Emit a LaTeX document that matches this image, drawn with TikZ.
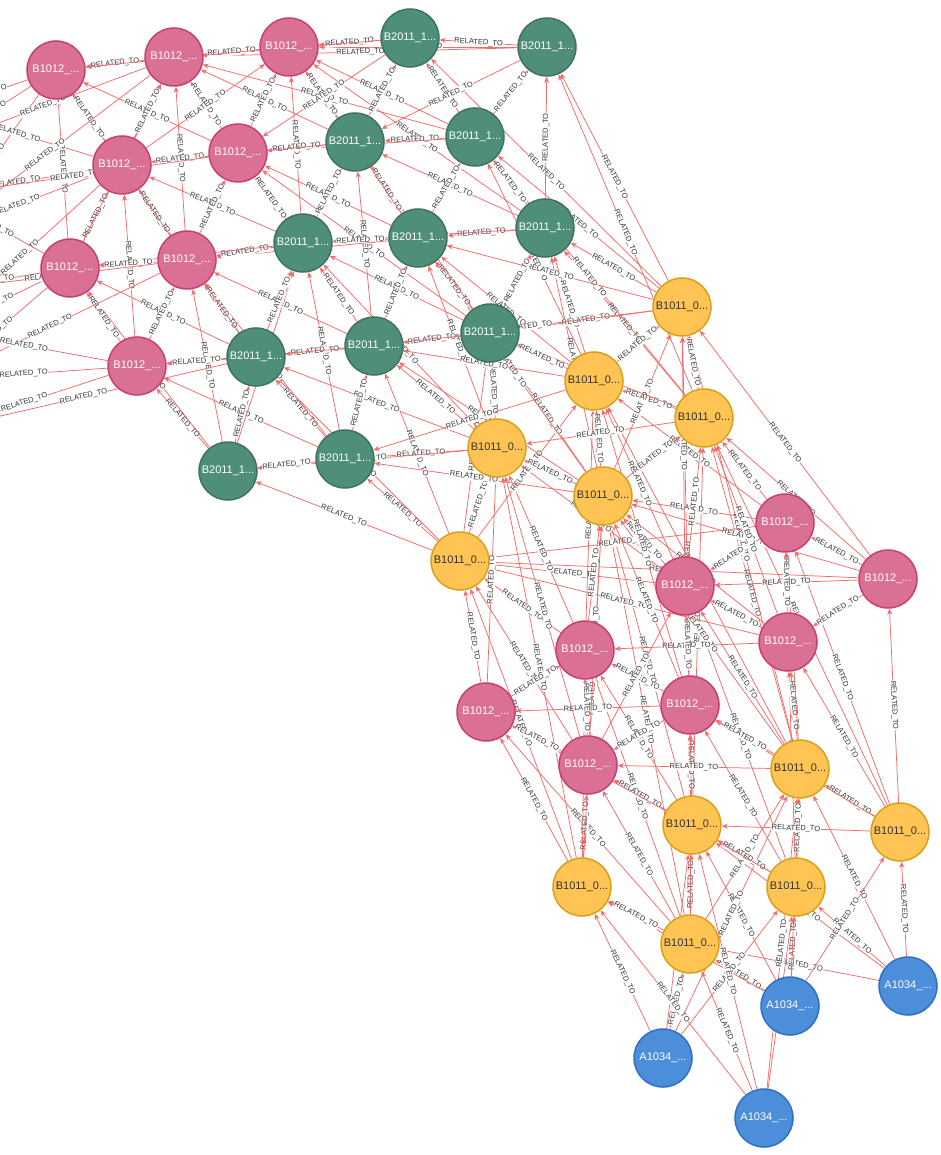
\documentclass[tikz,border=0pt]{standalone}
\usepackage{fontspec}
\setmainfont{Liberation Sans}
\usetikzlibrary{arrows.meta}
\definecolor{pinkF}{HTML}{DA7194}
\definecolor{pinkD}{HTML}{C7406F}
\definecolor{greenF}{HTML}{4F8E79}
\definecolor{greenD}{HTML}{3E735F}
\definecolor{yelF}{HTML}{FFC454}
\definecolor{yelD}{HTML}{D9A01A}
\definecolor{bluF}{HTML}{4C8EDA}
\definecolor{bluD}{HTML}{2F72C4}
\definecolor{relC}{HTML}{F26A6A}
\definecolor{lblC}{HTML}{333333}
\pgfdeclarelayer{bg}
\pgfsetlayers{bg,main}
\tikzset{
  gnode/.style={circle, minimum size=58pt, inner sep=0pt, line width=1.5pt, font=\fontsize{11}{12}\selectfont},
  pk/.style={gnode, fill=pinkF, draw=pinkD, text=white},
  gr/.style={gnode, fill=greenF, draw=greenD, text=white},
  yl/.style={gnode, fill=yelF, draw=yelD, text=black!80},
  bl/.style={gnode, fill=bluF, draw=bluD, text=white},
  rel/.style={draw=relC, line width=0.75pt, -{Stealth[length=6pt,width=5pt]}},
  lbl/.style={midway, sloped, fill=white, inner sep=0.4pt, text=lblC, font=\fontsize{7.5}{8}\selectfont}
}
\begin{document}
\begin{tikzpicture}[x=1pt,y=-1pt]
\useasboundingbox (0,0) rectangle (940,1155);
\clip (0,0) rectangle (940,1155);
% pink
\node[pk] (P1) at (56,70) {B1012\_...};
\node[pk] (P2) at (174,57) {B1012\_...};
\node[pk] (P3) at (289,47) {B1012\_...};
\node[pk] (P4) at (122,165) {B1012\_...};
\node[pk] (P5) at (238,153) {B1012\_...};
\node[pk] (P6) at (70,268) {B1012\_...};
\node[pk] (P7) at (187,260) {B1012\_...};
\node[pk] (P8) at (137,366) {B1012\_...};
\node[pk] (P9) at (785,523) {B1012\_...};
\node[pk] (P10) at (888,579) {B1012\_...};
\node[pk] (P11) at (685,586) {B1012\_...};
\node[pk] (P12) at (585,650) {B1012\_...};
\node[pk] (P13) at (788,642) {B1012\_...};
\node[pk] (P14) at (486,712) {B1012\_...};
\node[pk] (P15) at (690,705) {B1012\_...};
\node[pk] (P16) at (588,765) {B1012\_...};
% green
\node[gr] (G1) at (410,38) {B2011\_1...};
\node[gr] (G2) at (547,47) {B2011\_1...};
\node[gr] (G3) at (355,142) {B2011\_1...};
\node[gr] (G4) at (475,137) {B2011\_1...};
\node[gr] (G5) at (545,228) {B2011\_1...};
\node[gr] (G6) at (418,238) {B2011\_1...};
\node[gr] (G7) at (303,243) {B2011\_1...};
\node[gr] (G8) at (374,346) {B2011\_1...};
\node[gr] (G9) at (256,357) {B2011\_1...};
\node[gr] (G10) at (490,333) {B2011\_1...};
\node[gr] (G11) at (228,471) {B2011\_1...};
\node[gr] (G12) at (345,459) {B2011\_1...};
% yellow
\node[yl] (Y1) at (682,307) {B1011\_0...};
\node[yl] (Y2) at (594,381) {B1011\_0...};
\node[yl] (Y3) at (704,418) {B1011\_0...};
\node[yl] (Y4) at (497,448) {B1011\_0...};
\node[yl] (Y5) at (603,496) {B1011\_0...};
\node[yl] (Y6) at (460,561) {B1011\_0...};
\node[yl] (Y7) at (800,769) {B1011\_0...};
\node[yl] (Y8) at (692,825) {B1011\_0...};
\node[yl] (Y9) at (900,832) {B1011\_0...};
\node[yl] (Y10) at (582,887) {B1011\_0...};
\node[yl] (Y11) at (796,887) {B1011\_0...};
\node[yl] (Y12) at (690,944) {B1011\_0...};
% blue
\node[bl] (A1) at (908,986) {A1034\_...};
\node[bl] (A2) at (790,1006) {A1034\_...};
\node[bl] (A3) at (663,1058) {A1034\_...};
\node[bl] (A4) at (764,1118) {A1034\_...};
% off-picture ends
\coordinate (L1) at (-60,110);
\coordinate (L2) at (-60,145);
\coordinate (L3) at (-60,195);
\coordinate (L4) at (-60,235);
\coordinate (L5) at (-60,290);
\coordinate (L6) at (-60,330);
\coordinate (L7) at (-60,380);
\coordinate (L8) at (-60,430);
\begin{pgfonlayer}{bg}
\foreach \s/\t in {
A1/Y9, A1/Y11, A1/Y12, A1/Y8, A1/Y7,
A2/Y11, A2/Y9, A2/Y8, A2/Y12, A2/Y10, A2/Y7,
A3/Y10, A3/Y12, A3/Y8, A3/Y11, A3/Y7,
A4/Y12, A4/Y11, A4/Y8, A4/Y10, A4/Y7,
Y12/Y10, Y12/Y8, Y12/P16, Y12/P14, Y12/P15, Y12/Y7, Y12/Y5, Y12/P12,
Y11/Y8, Y11/Y7, Y11/P15, Y11/P13, Y11/P16, Y11/P11,
Y10/P14, Y10/P16, Y10/Y6, Y10/Y5, Y10/Y4, Y10/P12,
Y9/Y7, Y9/P10, Y9/P13, Y9/P9, Y9/P15, Y9/Y8, Y9/Y3,
Y8/P15, Y8/P16, Y8/P12, Y8/Y5, Y8/Y3, Y8/P14, Y8/Y1,
Y7/P13, Y7/P15, Y7/P16, Y7/P11, Y7/Y5, Y7/Y3, Y7/Y2, Y7/Y1, Y7/P9,
P10/P9, P10/Y3, P10/Y1, P10/P11, P10/Y6, P10/P13, P10/Y5,
P9/Y3, P9/Y5, P9/Y6, P9/P11, P9/Y2,
P13/P11, P13/P9, P13/Y5, P13/Y3, P13/P12, P13/Y6,
P11/Y5, P11/Y6, P11/Y4, P11/Y2, P11/Y3, P11/Y1,
P15/P11, P15/P12, P15/P14, P15/Y5, P15/P16, P15/Y2,
P12/Y6, P12/Y5, P12/Y4, P12/Y2,
P16/P14, P16/P12, P16/Y6, P16/Y5, P16/Y4, P16/P11,
P14/Y6, P14/Y4, P14/P12,
Y6/G12, Y6/G11, Y6/G8, Y6/Y4, Y6/G9, Y6/Y2, Y6/G10,
Y5/Y4, Y5/Y2, Y5/Y3, Y5/G10, Y5/G8, Y5/G5, Y5/Y1, Y5/G6, Y5/G12,
Y4/G12, Y4/G8, Y4/G10, Y4/G9, Y4/G11, Y4/G6, Y4/G7,
Y3/Y1, Y3/Y2, Y3/G10, Y3/G5, Y3/Y4, Y3/G2, Y3/G4,
Y2/G10, Y2/G8, Y2/G5, Y2/Y1, Y2/G12, Y2/G6, Y2/G4,
Y1/G5, Y1/G2, Y1/G10, Y1/G4, Y1/G6, Y1/G8, Y1/G1,
G12/G11, G12/G9, G12/G8, G12/P8, G12/G7, G12/P7,
G11/G9, G11/P8, G11/P7, G11/P6, G11/G7,
G10/G8, G10/G6, G10/G5, G10/G7, G10/G3, G10/G9, G10/P5,
G8/G9, G8/G7, G8/G6, G8/P7, G8/P8, G8/G3,
G9/P8, G9/P7, G9/P6, G9/G7, G9/P4,
G5/G4, G5/G6, G5/G2, G5/G3, G5/G7, G5/P3,
G6/G7, G6/G3, G6/G4, G6/P5, G6/P3, G6/P7,
G7/P7, G7/P5, G7/P4, G7/G3, G7/P3, G7/P6,
G4/G3, G4/G2, G4/G1, G4/P3, G4/P5, G4/P2,
G3/P3, G3/P5, G3/P2, G3/G1, G3/P4,
G2/G1, G2/P3, G2/G3, G2/P2,
G1/P3, G1/P2, G1/P5,
P8/P6, P8/P7, P8/P4,
P7/P6, P7/P4, P7/P5, P7/P1, P7/P2,
P6/P4, P6/P1, P6/P2,
P5/P4, P5/P2, P5/P3, P5/P1,
P4/P1, P4/P2, P3/P2, P2/P1, P3/P1, P4/P3}
  \draw[rel] (\s) -- node[lbl]{RELATED\_TO} (\t);
\foreach \s/\t in {
P1/L1, P1/L2, P1/L4, P2/L2, P4/L1, P4/L3, P4/L4, P4/L6, P5/L3,
P6/L3, P6/L5, P6/L6, P6/L7, P7/L5, P7/L7, P8/L6, P8/L7, P8/L8, G9/L8, P2/L4}
  \draw[rel] (\s) -- node[lbl]{RELATED\_TO} (\t);
\end{pgfonlayer}
\end{tikzpicture}
\end{document}
